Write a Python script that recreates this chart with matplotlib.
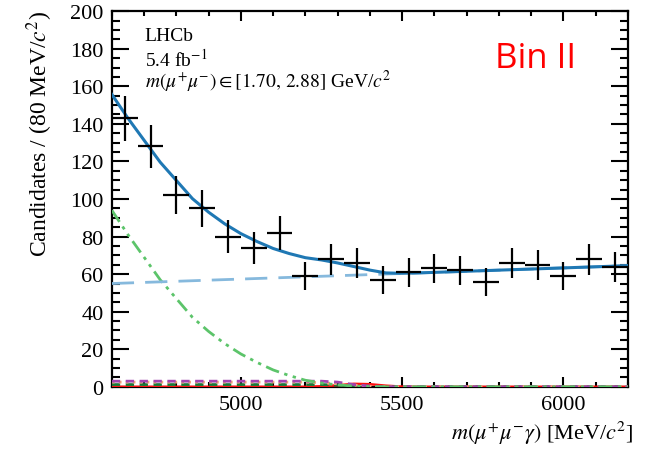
import numpy as np
import matplotlib
matplotlib.use("Agg")
import matplotlib.pyplot as plt
from matplotlib.ticker import MultipleLocator

plt.rcParams['font.family'] = ['Liberation Serif', 'DejaVu Serif']
plt.rcParams['mathtext.fontset'] = 'stix'

# binned data, 80 MeV bins
bin_centres = [4640, 4720, 4800, 4880, 4960, 5040, 5120, 5200, 5280, 5360,
               5440, 5520, 5600, 5680, 5760, 5840, 5920, 6000, 6080, 6160]
counts = [143, 128, 102, 95, 80, 74, 82, 59, 68, 66,
          57, 61, 63, 62, 56, 66, 65, 59, 68, 64]
bin_width = 80

# fit components, sampled every 50 MeV from 4600 to 6200
fit_x = np.arange(4600, 6201, 50)
part_reco = [94, 81, 69, 57, 47, 37, 29.5, 23, 17.5, 13, 9, 6, 3.5, 2, 1, 0.4, 0.1, 0] + [0.0] * 15
comb_ends_x = [4600, 6200]
comb_ends_y = [55.0, 64.5]
bkg_purple = [3.0] * 14 + [2.5, 1.2, 0.4, 0.0] + [0.0] * 15
bkg_orange = [2.5] * 13 + [2.2, 1.6, 0.9, 0.3, 0.0] + [0.0] * 15
bkg_dkgreen = [1.2] * 14 + [0.9, 0.5, 0.2, 0.0] + [0.0] * 15
signal = [0.0] * 13 + [0.3, 0.8, 1.6, 1.4, 0.6, 0.1] + [0.0] * 14

comb = np.interp(fit_x, comb_ends_x, comb_ends_y)
total = (comb + np.array(part_reco) + np.array(bkg_purple) + np.array(bkg_orange)
         + np.array(bkg_dkgreen) + np.array(signal))

fig = plt.figure(figsize=(6.54, 4.52), dpi=100)
ax = fig.add_axes([0.171, 0.142, 0.789, 0.831])

ax.plot(fit_x, signal, color='#ff1010', lw=1.8, zorder=3)
ax.plot(fit_x, bkg_dkgreen, color='#1a7a3a', lw=2, ls=(0, (3, 2)), zorder=3)
ax.plot(fit_x, bkg_orange, color='#f2a47a', lw=2, ls=(0, (1, 1.5)), zorder=3)
ax.plot(fit_x, bkg_purple, color='#a044b0', lw=2, ls=(0, (3, 2)), zorder=3)
ax.plot(fit_x, part_reco, color='#5cc46a', lw=2, ls=(0, (5, 2, 1.2, 2, 1.2, 2)), zorder=3)
ax.plot(comb_ends_x, comb_ends_y, color='#86b9dd', lw=2, ls=(0, (8, 4)), zorder=3)
ax.plot(fit_x, total, color='#1f78b4', lw=2.2, zorder=4)

ax.errorbar(bin_centres, counts, yerr=np.sqrt(counts), xerr=bin_width / 2,
            fmt='none', ecolor='black', elinewidth=1.6, capsize=0, zorder=5)

ax.set_xlim(4600, 6200)
ax.set_ylim(0, 200)
ax.xaxis.set_major_locator(MultipleLocator(500))
ax.xaxis.set_minor_locator(MultipleLocator(100))
ax.yaxis.set_major_locator(MultipleLocator(20))
ax.yaxis.set_minor_locator(MultipleLocator(5))
ax.tick_params(axis='both', which='both', direction='in', top=True, right=True,
               width=1.5, labelsize=16, colors='black')
ax.tick_params(axis='x', which='major', length=7, pad=6)
ax.tick_params(axis='x', which='minor', length=3.5)
ax.tick_params(axis='y', which='major', length=12, pad=6)
ax.tick_params(axis='y', which='minor', length=6)
for sp in ax.spines.values():
    sp.set_linewidth(1.6)

fig.text(0.061, 0.975, r'Candidates / (80 MeV/$c^{2}$)', rotation=90,
         ha='center', va='top', fontsize=17)
fig.text(0.968, 0.028, r'$m(\mu^{+}\mu^{-}\gamma)$ [MeV/$c^{2}$]',
         ha='right', va='baseline', fontsize=16)

ax.text(0.064, 0.935, 'LHCb', transform=ax.transAxes, fontsize=14, va='center')
ax.text(0.064, 0.875, r'5.4 fb$^{-1}$', transform=ax.transAxes, fontsize=14, va='center')
ax.text(0.064, 0.815, r'$m(\mu^{+}\mu^{-}) \in [1.70,\, 2.88]$ GeV/$c^{2}$',
        transform=ax.transAxes, fontsize=14, va='center')
ax.text(0.822, 0.875, 'Bin II', transform=ax.transAxes, color='red',
        fontsize=25, family=['Open Sans', 'DejaVu Sans'], ha='center', va='center')

fig.savefig('out.png', dpi=100)
